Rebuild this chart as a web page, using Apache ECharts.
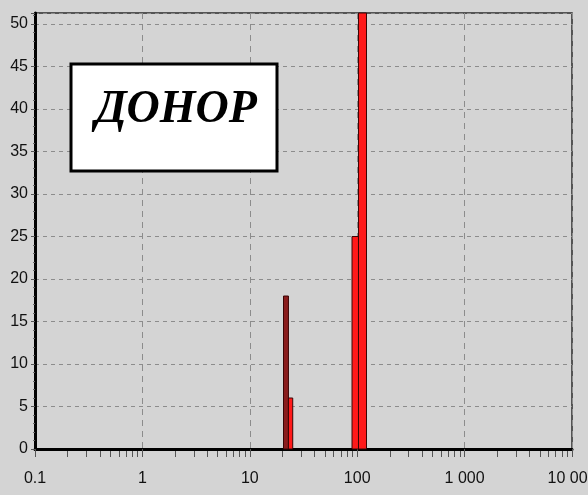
<!DOCTYPE html>
<html>
<head>
<meta charset="utf-8">
<script src="https://cdn.jsdelivr.net/npm/echarts@6/dist/echarts.min.js"></script>
<style>
  html, body { margin: 0; padding: 0; background: #d4d4d4; }
  #chart { width: 588px; height: 495px; }
</style>
</head>
<body>
<div id="chart"></div>
<script>
// Histogram bins on a logarithmic size axis
const binStart = [20.6, 22.9, 89.5, 102.8];
const binEnd   = [22.9, 25.1, 102.8, 122.1];
const counts   = [18, 6, 25, 55];

// Axis tick labels
const xTickValues = [0.1, 1, 10, 100, 1000, 10000];
const xTickLabels = ['0.1', '1', '10', '100', '1 000', '10 000'];
const yTickLabels = ['0', '5', '10', '15', '20', '25', '30', '35', '40', '45', '50'];

const titleText = 'ДОНОР';

// Fill per bin
const barFill = ['#8a1c1c', '#ff1a1a', '#ff1a1a', '#ff1a1a'];

// Minor tick positions between decades (2..9 × 10^n)
const minorTicks = [];
for (let d = 0; d < xTickValues.length - 1; d++) {
  for (let k = 2; k <= 9; k++) minorTicks.push([xTickValues[d] * k]);
}

const chart = echarts.init(document.getElementById('chart'), null, { renderer: 'canvas' });

const labelFont = '"Liberation Sans Narrow", "Liberation Sans", Arial, sans-serif';

chart.setOption({
  backgroundColor: '#d4d4d4',
  animation: false,
  grid: {
    left: 35, right: 16, top: 13, bottom: 46,
    outerBoundsMode: 'none',
    containLabel: false,
    show: true,
    backgroundColor: '#d4d4d4',
    borderColor: '#2a2a2a',
    borderWidth: 1.5
  },
  xAxis: {
    type: 'log',
    logBase: 10,
    min: 0.1,
    max: 10000,
    axisLine: { show: true, onZero: false, lineStyle: { color: '#000', width: 3 } },
    axisTick: { show: true, length: 8, lineStyle: { color: '#555', width: 1 } },
    axisLabel: {
      margin: 22,
      fontFamily: labelFont,
      fontSize: 16,
      color: '#111',
      formatter: function (v) {
        const i = xTickValues.findIndex(t => Math.abs(Math.log10(t) - Math.log10(v)) < 1e-6);
        return i >= 0 ? xTickLabels[i] : '';
      }
    },
    splitLine: { show: true, lineStyle: { color: '#8c8c8c', type: [6, 5], width: 1 } }
  },
  yAxis: {
    type: 'value',
    min: 0,
    max: 51.3,
    interval: 5,
    axisLine: { show: true, lineStyle: { color: '#000', width: 3 } },
    axisTick: { show: true, length: 4, lineStyle: { color: '#555' } },
    minorTick: { show: true, splitNumber: 5, length: 2, lineStyle: { color: '#666' } },
    axisLabel: {
      margin: 7,
      fontFamily: labelFont,
      fontSize: 16,
      color: '#111',
      showMaxLabel: false,
      formatter: function (v, idx) { return yTickLabels[idx] !== undefined && Math.abs(v - idx * 5) < 1e-6 ? yTickLabels[idx] : ''; }
    },
    splitLine: { show: true, lineStyle: { color: '#8c8c8c', type: [4, 4], width: 1 } }
  },
  graphic: [
    {
      type: 'rect',
      z: 100,
      shape: { x: 71, y: 64, width: 206, height: 107 },
      style: { fill: '#ffffff', stroke: '#000', lineWidth: 3 }
    },
    {
      type: 'text',
      z: 101,
      x: 176, y: 110,
      style: {
        text: titleText,
        fill: '#000',
        font: 'italic bold 46px "Liberation Serif", "Times New Roman", serif',
        align: 'center',
        verticalAlign: 'middle'
      }
    }
  ],
  series: [
    {
      type: 'custom',
      name: 'bins',
      z: 1,
      data: binStart.map((s, i) => [s, binEnd[i], counts[i]]),
      encode: { x: [0, 1], y: 2 },
      renderItem: function (params, api) {
        const p0 = api.coord([api.value(0), 0]);
        const p1 = api.coord([api.value(1), api.value(2)]);
        const cs = params.coordSys;
        const shape = echarts.graphic.clipRectByRect(
          { x: p0[0], y: p1[1], width: p1[0] - p0[0], height: p0[1] - p1[1] },
          { x: cs.x, y: cs.y, width: cs.width, height: cs.height }
        );
        return shape && {
          type: 'rect',
          shape: shape,
          style: { fill: barFill[params.dataIndex], stroke: '#3a0505', lineWidth: 1 }
        };
      }
    },
    {
      type: 'custom',
      name: 'minor',
      silent: true,
      z: 3,
      data: minorTicks,
      encode: { x: 0 },
      renderItem: function (params, api) {
        const p = api.coord([api.value(0), 0]);
        return {
          type: 'line',
          shape: { x1: Math.round(p[0]) + 0.5, y1: p[1] + 2, x2: Math.round(p[0]) + 0.5, y2: p[1] + 8 },
          style: { stroke: '#555', lineWidth: 1 }
        };
      }
    }
  ]
});
</script>
</body>
</html>
